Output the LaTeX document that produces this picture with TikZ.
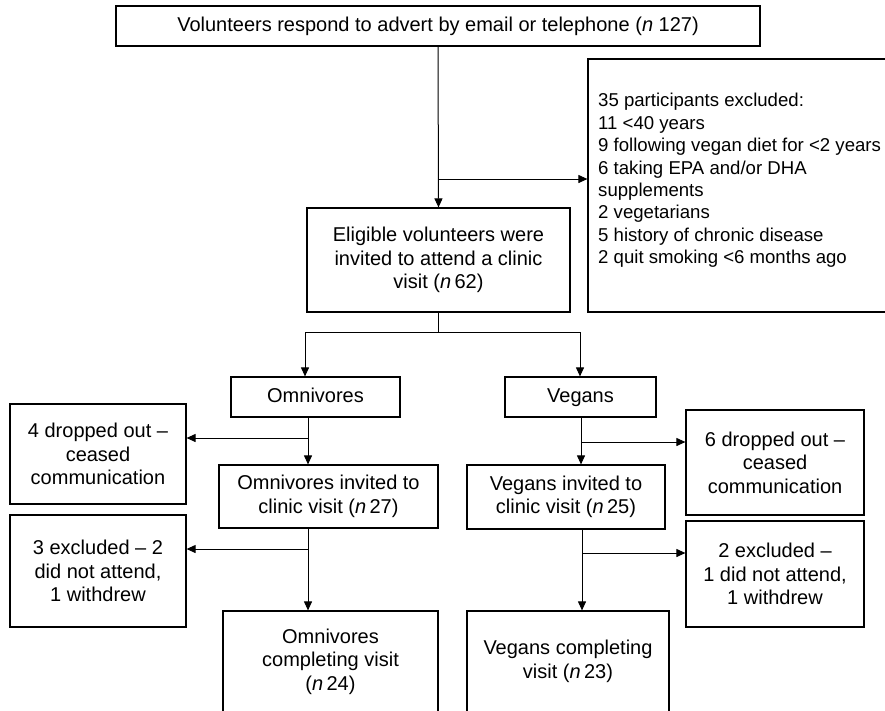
\documentclass[tikz,border=0pt]{standalone}
\usepackage{fontspec}
\setmainfont{Liberation Sans}
\usetikzlibrary{arrows.meta}
\begin{document}
\begin{tikzpicture}[x=1pt,y=-1pt,
  box/.style={draw, line width=1.2pt, align=center, inner sep=0pt,
    font=\fontsize{20}{23.5}\selectfont},
  onebox/.style={box, text height=14.5pt, text depth=4.5pt},
  conn/.style={line width=1pt},
  arr/.style={conn, -{Triangle[length=9pt,width=8pt]}}]
\useasboundingbox (0,0) rectangle (885,710);
\clip (0,0) rectangle (885,710);
% boxes
\node[box, minimum width=644, minimum height=40] (top) at (438,26)
  {Volunteers respond to advert by email or telephone (\textit{n} 127)};
\node[box, minimum width=308, minimum height=253] (excl) at (742,185.5) {};
\node[anchor=west, align=left, inner sep=0pt,
  font=\fontsize{18.6}{22.4}\selectfont] (excltext) at (598,180.5)
  {35 participants excluded:\\
   11 <40 years\\
   9 following vegan diet for <2 years\\
   6 taking EPA and/or DHA\\
   supplements\\
   2 vegetarians\\
   5 history of chronic disease\\
   2 quit smoking <6 months ago};
\node[box, minimum width=263, minimum height=104] (elig) at (438.5,260)
  {Eligible volunteers were\\invited to attend a clinic\\visit (\textit{n}\,62)};
\node[onebox, minimum width=169, minimum height=40] (omni) at (315.5,397) {Omnivores};
\node[onebox, minimum width=151, minimum height=40] (veg) at (580.5,397) {Vegans};
\node[box, minimum width=176, minimum height=100] (drop4) at (98,454)
  {4 dropped out –\\ceased\\communication};
\node[box, minimum width=219, minimum height=63] (omniInv) at (328.5,496.5)
  {Omnivores invited to\\clinic visit (\textit{n}\,27)};
\node[box, minimum width=178, minimum height=105] (drop6) at (775,462.5)
  {6 dropped out –\\ceased\\communication};
\node[box, minimum width=198, minimum height=64] (vegInv) at (566,497)
  {Vegans invited to\\clinic visit (\textit{n}\,25)};
\node[box, minimum width=176, minimum height=112] (excl3) at (98,571)
  {3 excluded – 2\\did not attend,\\1 withdrew};
\node[box, minimum width=178, minimum height=106] (excl2) at (775,574)
  {2 excluded –\\1 did not attend,\\1 withdrew};
\node[box, minimum width=215, minimum height=101] (omniComp) at (330.5,661.5)
  {Omnivores\\completing visit\\(\textit{n}\,24)};
\node[box, minimum width=202, minimum height=101] (vegComp) at (568,661.5)
  {Vegans completing\\visit (\textit{n}\,23)};
% connectors
\draw[arr] (top.south) -- (elig.north);
\coordinate (b1) at (438,179);
\draw[arr] (b1) -- (b1 -| excl.west);
\coordinate (sl) at (305,332);
\coordinate (sr) at (580,332);
\draw[conn] (elig.south) -- (elig.south |- sl);
\draw[conn] (sl) -- (sr);
\draw[arr] (sl) -- (sl |- omni.north);
\draw[arr] (sr) -- (sr |- veg.north);
% omnivores branch
\coordinate (o1) at (308,438);
\draw[arr] (o1 |- omni.south) -- (o1 |- omniInv.north);
\draw[arr] (o1) -- (o1 -| drop4.east);
\coordinate (o2) at (308,549);
\draw[arr] (o2 |- omniInv.south) -- (o2 |- omniComp.north);
\draw[arr] (o2) -- (o2 -| excl3.east);
% vegans branch
\coordinate (v1) at (581,442);
\draw[arr] (v1 |- veg.south) -- (v1 |- vegInv.north);
\draw[arr] (v1) -- (v1 -| drop6.west);
\coordinate (v2) at (582,553);
\draw[arr] (v2 |- vegInv.south) -- (v2 |- vegComp.north);
\draw[arr] (v2) -- (v2 -| excl2.west);
\end{tikzpicture}
\end{document}
